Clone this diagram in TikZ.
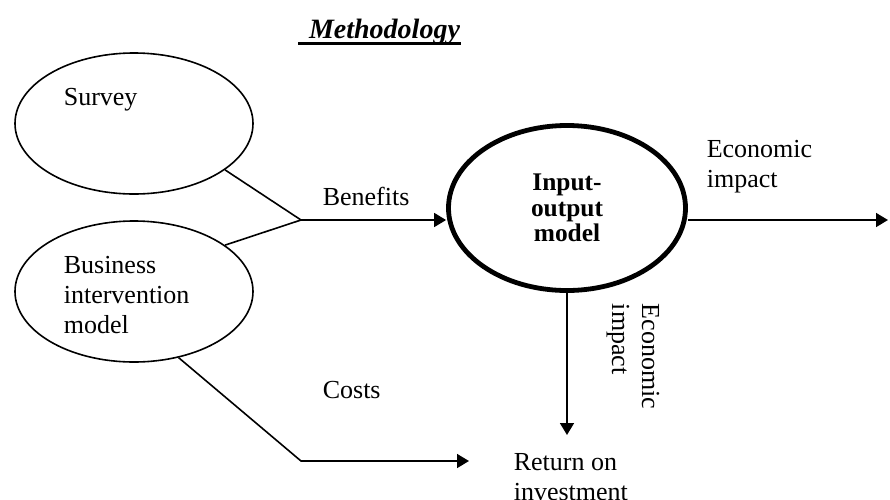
\documentclass[tikz,border=0pt]{standalone}
\usepackage{fontspec}
\setmainfont{Liberation Serif}
\usetikzlibrary{shapes,arrows.meta,positioning}

\begin{document}
\begin{tikzpicture}[x=0.5pt, y=-0.5pt, >={Triangle[length=6pt,width=7pt]}, line width=0.8pt,
        font=\fontsize{13}{15}\selectfont]
        \tikzstyle{blob}=[draw, ellipse, minimum width=119pt, minimum height=70.5pt, inner sep=0pt]
        \tikzstyle{txt}=[inner sep=0pt, align=left, anchor=base west]
        \useasboundingbox (0,0) rectangle (890,499);
        % title
        \node[inner sep=0pt, anchor=base, font=\bfseries\itshape\fontsize{14}{16}\selectfont] (ttl) at (384.5,38) {Methodology};
        \draw[line width=1.5pt] ([xshift=-5pt,yshift=-2.5pt]ttl.base west) -- ([yshift=-2.5pt]ttl.base east);
        % models (base of a multi-line node = its last line)
        \node[blob]    (survey)  at (134,123.5)   {};
        \node[blob]    (busi)    at (134,291.5)   {};
        \node[draw, ellipse, line width=2.4pt, minimum width=118.5pt, minimum height=82.5pt, align=center,
              font=\bfseries\fontsize{12.7}{12.8}\selectfont] (io) at (567,208) {Input-\\output\\model};
        \node[txt]     (svlbl)   at (63,105)      {Survey};
        \node[txt]     (bimlbl)  at (63,333)      {Business\\intervention\\model};
        \node[txt]     (roi)     at (513,500)     {Return on\\investment};
        % labels
        \node[txt]     (benlbl)  at (322,205)     {Benefits};
        \node[txt]     (cstlbl)  at (322,398)     {Costs};
        \node[txt]     (eirt)    at (706,187)     {Economic\\impact};
        \node[txt, rotate=-90] (eidn) at (612,303) {Economic\\impact};
        % connectors
        \coordinate (jn)   at (301,220);
        \coordinate (rt)   at (888,220);
        \coordinate (dn)   at (566,435);
        \coordinate (bend) at (301,461);
        \coordinate (ce)   at (469,461);
        \draw (survey.-27) -- (jn);
        \draw (busi.27) -- (jn);
        \draw[->] (jn) -- (jn -| io.west);
        \draw[->] (io.east |- jn) -- (rt);
        \draw[->] (io.south) -- (io.south |- dn);
        \draw[->] (busi.-56) -- (bend) -- (ce);
\end{tikzpicture}
\end{document}
